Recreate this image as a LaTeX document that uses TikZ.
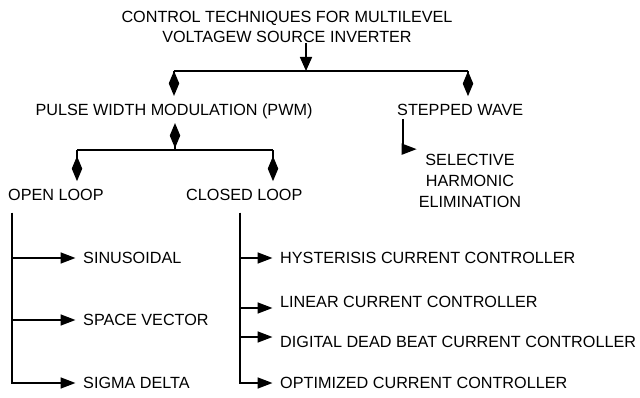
\documentclass[tikz,border=0pt]{standalone}
\usepackage{fontspec}
\setmainfont{Liberation Sans}
\usetikzlibrary{arrows.meta, positioning}

\tikzset{
	lbl/.style={inner sep=0pt, text depth=0pt, font=\fontsize{16.2}{20}\selectfont},
	leaf/.style={lbl, anchor=west},
	bus/.style={line width=1.7pt},
	dia/.style={bus, -{Diamond[length=25pt,width=10.5pt]}, shorten >=8pt},
	branch/.style={bus, -{Triangle[length=15pt,width=11pt]}, shorten >=7.5pt},
}

\begin{document}
\begin{tikzpicture}[x=1pt, y=-1pt]
\useasboundingbox (0,0) rectangle (640,398);

\node[lbl, align=center] (root) at (287,27) {CONTROL TECHNIQUES FOR MULTILEVEL\\VOLTAGEW SOURCE INVERTER};

\node[lbl] (pwm) at (174,110) {PULSE WIDTH MODULATION (PWM)};
\node[leaf] (sw) at (397,110) {STEPPED WAVE};
\node[lbl, align=center, font=\fontsize{16.2}{21}\selectfont] (she) at (470,181) {SELECTIVE\\HARMONIC\\ELIMINATION};

\node[leaf] (ol) at (8,195) {OPEN LOOP};
\node[leaf] (cl) at (186,195) {CLOSED LOOP};

\node[leaf] (sin) at (83,258) {SINUSOIDAL};
\node[leaf] (sv) at (83,320) {SPACE VECTOR};
\node[leaf] (sd) at (83,383) {SIGMA DELTA};

\node[leaf] (hy) at (280,258) {HYSTERISIS CURRENT CONTROLLER};
\node[leaf] (lin) at (280,302) {LINEAR CURRENT CONTROLLER};
\node[leaf] (dig) at (280,342) {DIGITAL DEAD BEAT CURRENT CONTROLLER};
\node[leaf] (opt) at (280,383) {OPTIMIZED CURRENT CONTROLLER};

% bus points
\coordinate (top) at (306,71);
\coordinate (tl) at (174,71);
\coordinate (tr) at (468,71);
\coordinate (pb) at (175,150);
\coordinate (pbl) at (77,150);
\coordinate (pbr) at (273,150);
\coordinate (swbus) at ([xshift=6pt,yshift=-3pt]sw.south west);
\coordinate (olbus) at ([xshift=4pt,yshift=-12pt]ol.south west);
\coordinate (clbus) at ([xshift=54pt,yshift=-12pt]cl.south west);

\draw[bus, -{Triangle[length=14pt,width=12pt]}] ([xshift=19pt]root.south) -- (top);
\draw[bus] (tl) -- (tr);
\draw[dia] (tl) -- (tl |- pwm.north);
\draw[dia] (tr) -- (tr |- sw.north);

\draw[bus] (pbl) -- (pbr);
\draw[dia, shorten >=7pt] (pb) -- (pb |- pwm.south);
\draw[dia] (pbl) -- (pbl |- ol.north);
\draw[dia] (pbr) -- (pbr |- cl.north);

\draw[bus, -{Triangle[length=15pt,width=11pt]}] (swbus) |- ([shift={(-2pt,5pt)}]she.north west);

\draw[branch] (olbus) |- (sin);
\draw[branch] (olbus) |- (sv);
\draw[branch] (olbus) |- (sd);

\draw[branch] (clbus) |- (hy);
\draw[branch] (clbus) |- ([yshift=-6pt]lin.west);
\draw[branch] (clbus) |- ([yshift=5pt]dig.west);
\draw[branch] (clbus) |- (opt);

\end{tikzpicture}
\end{document}
